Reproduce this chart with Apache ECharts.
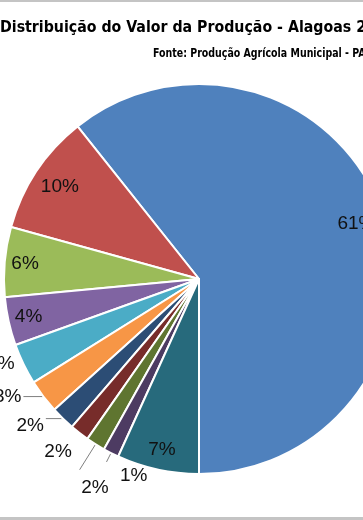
<!DOCTYPE html>
<html>
<head>
<meta charset="utf-8">
<script src="https://cdn.jsdelivr.net/npm/echarts@6/dist/echarts.min.js"></script>
<style>html,body{margin:0;padding:0;background:#fff;}#c{width:363px;height:520px;}</style>
</head>
<body>
<div id="c"></div>
<script>
var categories = ['Item 1','Item 2','Item 3','Item 4','Item 5','Item 6','Item 7','Item 8','Item 9','Item 10','Item 11'];
var values = [60.7, 10.0, 5.8, 4.0, 3.4, 2.8, 2.0, 1.6, 1.6, 1.3, 6.8];
var colors = ['#4F81BD','#C0504D','#9BBB59','#8064A2','#4BACC6','#F79646','#2C4D75','#772C2A','#5F7530','#4D3B62','#276A7C'];
var titleText = 'Distribuição do Valor da Produção - Alagoas 2';
var sourceText = 'Fonte: Produção Agrícola Municipal - PAM';

var total = values.reduce(function(a,b){return a+b;},0);
function pct(p){ return Math.round(p.value / total * 100) + '%'; }

var CX = 199, CY = 279, R = 195;
var labelFont = {fontFamily:'Liberation Sans, Arial, sans-serif', fontSize:19, color:'#111'};

// outer-label tuning per item: line length, line length2, gap, line shown, downward shift
var outer = {
  4: {len:0, len2:4, dist:5, line:false, shift:0},
  5: {len:0, len2:20, dist:2, line:true, shift:0},
  6: {len:0, len2:17, dist:2, line:true, shift:7},
  7: {len:24, len2:0, dist:-7, line:false, shift:0},
  8: {len:30, len2:0, dist:-29, line:true, shift:18},
  9: {len:10, len2:0, dist:-41, line:true, shift:14}
};
var innerA = [0,1];    // labels at ~0.84 r
var innerB = [2,3,10]; // labels at ~0.88 r

var mainData = categories.map(function(n,i){
  var d = {name:n, value:values[i], itemStyle:{color:colors[i]}};
  var o = outer[i];
  if (o) {
    d.label = {show:true, distanceToLabelLine:o.dist, width:44, overflow:'none'};
    if (o.shift) {
      d.label.lineHeight = o.shift * 2;
      d.label.formatter = function(p){ return '\n' + pct(p); };
    }
    d.labelLine = {show:o.line, length:o.len, length2:o.len2};
  } else {
    d.label = {show:false};
    d.labelLine = {show:false};
  }
  return d;
});
function labelData(list){
  return categories.map(function(n,i){
    return {name:n, value:values[i], label:{show:list.indexOf(i)>=0}};
  });
}

var titleFont = "'DejaVu Sans Condensed','Liberation Sans Narrow',sans-serif";
var chart = echarts.init(document.getElementById('c'), null, {renderer:'canvas'});
chart.setOption({
  backgroundColor:'#fff',
  animation:false,
  graphic:[
    {type:'rect', shape:{x:0,y:0,width:363,height:2}, style:{fill:'#c4c4c4'}, silent:true},
    {type:'rect', shape:{x:0,y:517,width:363,height:3}, style:{fill:'#c4c4c4'}, silent:true},
    {type:'text', x:0, y:19, scaleX:0.955, silent:true,
     style:{text:titleText, fontFamily:titleFont, fontSize:16.5, fontWeight:'bold', fill:'#000'}},
    {type:'text', x:153, y:47, scaleX:0.84, silent:true,
     style:{text:sourceText, fontFamily:titleFont, fontSize:12.5, fontWeight:'bold', fill:'#000'}}
  ],
  series:[
    {
      type:'pie', center:[CX,CY], radius:R, startAngle:-90, clockwise:false,
      avoidLabelOverlap:false, silent:true,
      labelLayout:{hideOverlap:false},
      itemStyle:{borderColor:'#fff', borderWidth:2},
      label:Object.assign({position:'outside', formatter:pct}, labelFont),
      labelLine:{lineStyle:{color:'#7f7f7f', width:1}},
      data:mainData
    },
    {
      type:'pie', center:[CX,CY], radius:[R*0.80, R*0.88], startAngle:-90, clockwise:false,
      avoidLabelOverlap:false, silent:true,
      labelLayout:{hideOverlap:false},
      itemStyle:{color:'rgba(0,0,0,0)', borderWidth:0},
      label:Object.assign({position:'inside', formatter:pct}, labelFont),
      labelLine:{show:false},
      data:labelData(innerA)
    },
    {
      type:'pie', center:[CX,CY], radius:[R*0.84, R*0.92], startAngle:-90, clockwise:false,
      avoidLabelOverlap:false, silent:true,
      labelLayout:{hideOverlap:false},
      itemStyle:{color:'rgba(0,0,0,0)', borderWidth:0},
      label:Object.assign({position:'inside', formatter:pct}, labelFont),
      labelLine:{show:false},
      data:labelData(innerB)
    }
  ]
});
</script>
</body>
</html>
